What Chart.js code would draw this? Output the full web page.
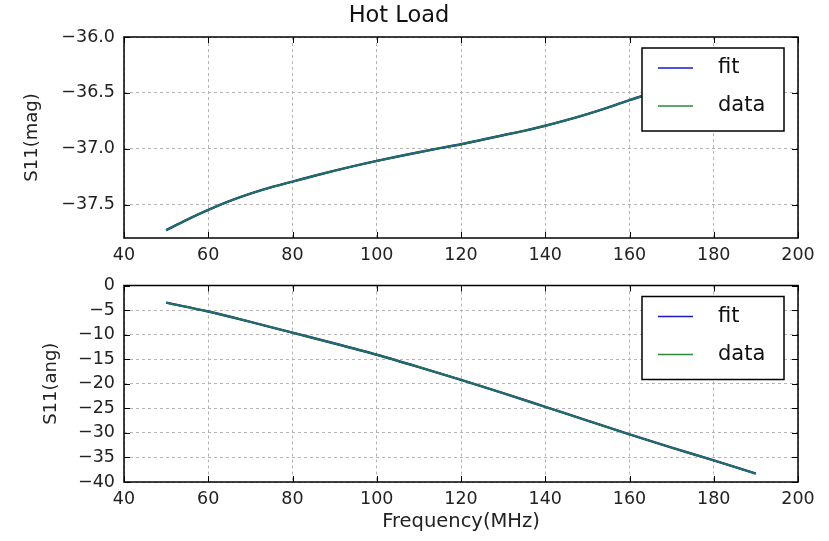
<!DOCTYPE html>
<html>
<head>
<meta charset="utf-8">
<script src="https://cdn.jsdelivr.net/npm/chart.js@4/dist/chart.umd.min.js"></script>
<style>
  html, body { margin: 0; padding: 0; background: #ffffff; }
  #wrap { position: relative; width: 829px; height: 541px; background: #ffffff; }
  canvas { position: absolute; left: 0; }
  #magCanvas { top: 0; }
  #angCanvas { top: 266px; }
</style>
</head>
<body>
<div id="wrap">
  <canvas id="magCanvas" width="829" height="266"></canvas>
  <canvas id="angCanvas" width="829" height="275"></canvas>
</div>
<script>
// Frequency samples (MHz) and measured S11 values
const magFreq = [50, 55, 60, 65, 70, 75, 80, 85, 90, 95, 100, 105, 110, 115, 120,
                 125, 130, 135, 140, 145, 150, 155, 160, 165, 170, 175, 180, 185, 190];
const magData = [-37.73, -37.635, -37.548, -37.47, -37.403, -37.345, -37.295, -37.245,
                 -37.197, -37.152, -37.11, -37.07, -37.032, -36.995, -36.96, -36.92, -36.88,
                 -36.84, -36.795, -36.745, -36.69, -36.63, -36.565, -36.505, -36.44,
                 -36.37, -36.30, -36.23, -36.16];
const magFit = [-37.73, -37.635, -37.548, -37.47, -37.403, -37.345, -37.295, -37.245,
                -37.197, -37.152, -37.11, -37.07, -37.032, -36.995, -36.96, -36.92, -36.88,
                -36.84, -36.795, -36.745, -36.69, -36.63, -36.565, -36.505, -36.44,
                -36.37, -36.30, -36.23, -36.16];

const angFreq = [50, 60, 70, 80, 90, 100, 110, 120, 130, 140, 150, 160, 170, 180, 190];
const angData = [-3.5, -5.3, -7.4, -9.6, -11.8, -14.1, -16.6, -19.2, -21.9, -24.7,
                 -27.5, -30.3, -33.0, -35.6, -38.3];
const angFit = [-3.5, -5.3, -7.4, -9.6, -11.8, -14.1, -16.6, -19.2, -21.9, -24.7,
                -27.5, -30.3, -33.0, -35.6, -38.3];

// Axis ticks
const freqTicks = [40, 60, 80, 100, 120, 140, 160, 180, 200];
const magTicks = [-37.5, -37.0, -36.5, -36.0];
const angTicks = [0, -5, -10, -15, -20, -25, -30, -35, -40];
const legendLabels = ['fit', 'data'];

const FONT = "'DejaVu Sans', sans-serif";
const FIT_COLOR = '#1a1acc';
const DATA_COLOR = '#1f7550';

function toPoints(xs, ys) { return xs.map((x, i) => ({ x: x, y: ys[i] })); }
function minus(s) { return String(s).replace('-', '\u2212'); }

// Frame, inward tick marks and the boxed legend inside the axes
const framePlugin = {
  id: 'frame',
  afterDatasetsDraw(chart) {
    const ctx = chart.ctx;
    const a = chart.chartArea;
    const xs = chart.scales.x, ys = chart.scales.y;
    ctx.save();
    ctx.strokeStyle = '#000';
    ctx.lineWidth = 1;
    const tl = 6;
    ctx.beginPath();
    xs.ticks.forEach(t => {
      const px = Math.round(xs.getPixelForValue(t.value)) + 0.5;
      ctx.moveTo(px, a.bottom); ctx.lineTo(px, a.bottom - tl);
      ctx.moveTo(px, a.top); ctx.lineTo(px, a.top + tl);
    });
    ys.ticks.forEach(t => {
      const py = Math.round(ys.getPixelForValue(t.value)) + 0.5;
      ctx.moveTo(a.left, py); ctx.lineTo(a.left + tl, py);
      ctx.moveTo(a.right, py); ctx.lineTo(a.right - tl, py);
    });
    ctx.stroke();

    // legend box
    const lg = chart.options.plugins.boxLegend;
    const bx = 642, bw = 142, by = a.top + lg.offsetTop, bh = 83;
    ctx.fillStyle = '#fff';
    ctx.fillRect(bx, by, bw, bh);
    ctx.lineWidth = 1.5;
    ctx.strokeStyle = '#000';
    ctx.strokeRect(bx, by, bw, bh);
    const colors = [FIT_COLOR, '#2a8a3a'];
    ctx.font = '21px ' + FONT;
    ctx.textBaseline = 'middle';
    ctx.textAlign = 'left';
    legendLabels.forEach((lab, i) => {
      const ly = by + 20 + i * 38;
      ctx.strokeStyle = colors[i];
      ctx.lineWidth = 1.5;
      ctx.beginPath();
      ctx.moveTo(bx + 16, ly); ctx.lineTo(bx + 51, ly);
      ctx.stroke();
      ctx.fillStyle = '#111';
      ctx.fillText(lab, bx + 76, ly);
    });

    // axes frame
    ctx.lineWidth = 1.5;
    ctx.strokeStyle = '#000';
    ctx.strokeRect(a.left, a.top, a.right - a.left, a.bottom - a.top);
    ctx.restore();
  }
};

function makeChart(id, cfg) {
  const tickFont = { family: FONT, size: 17.5 };
  const gridOpts = { color: '#b4b4b4', lineWidth: 1, drawTicks: false };
  const borderOpts = { display: false, dash: [3, 3] };
  return new Chart(document.getElementById(id), {
    type: 'line',
    data: {
      datasets: [
        { label: legendLabels[0], data: toPoints(cfg.freq, cfg.fit), borderColor: FIT_COLOR,
          borderWidth: 2.4, pointRadius: 0, cubicInterpolationMode: 'monotone', fill: false,
          order: 1 },
        { label: legendLabels[1], data: toPoints(cfg.freq, cfg.data), borderColor: DATA_COLOR,
          borderWidth: 2, pointRadius: 0, cubicInterpolationMode: 'monotone', fill: false,
          order: 0 }
      ]
    },
    options: {
      responsive: false,
      animation: false,
      events: [],
      layout: { padding: { left: 0, right: 31, top: cfg.padTop, bottom: 0 } },
      plugins: {
        legend: { display: false },
        tooltip: { enabled: false },
        title: cfg.title ? {
          display: true, text: cfg.title, color: '#111',
          font: { family: FONT, size: 22.5, weight: 'normal' },
          padding: { top: 2.5, bottom: 7.5 }
        } : { display: false },
        boxLegend: { offsetTop: cfg.legendTop }
      },
      scales: {
        x: {
          type: 'linear', min: 40, max: 200,
          grid: gridOpts, border: borderOpts,
          afterBuildTicks: s => { s.ticks = freqTicks.map(v => ({ value: v })); },
          afterFit: s => { s.height = cfg.xHeight; },
          ticks: { color: '#222', font: tickFont, padding: 6.5, maxRotation: 0,
                   callback: v => minus(v) },
          title: cfg.xTitle ? {
            display: true, text: cfg.xTitle, color: '#222',
            font: { family: FONT, size: 19.5 }, padding: { top: 0, bottom: 7.3 }
          } : { display: false }
        },
        y: {
          type: 'linear', min: cfg.yMin, max: cfg.yMax,
          grid: gridOpts, border: borderOpts,
          afterBuildTicks: s => { s.ticks = cfg.yTicks.map(v => ({ value: v })); },
          afterFit: s => { s.width = 124; },
          ticks: { color: '#222', font: tickFont, padding: 9,
                   callback: v => minus(cfg.decimals ? v.toFixed(cfg.decimals) : v) },
          title: {
            display: true, text: cfg.yTitle, color: '#222',
            font: { family: FONT, size: 18 }, padding: { top: cfg.yTitlePad, bottom: 0 }
          }
        }
      }
    },
    plugins: [framePlugin]
  });
}

makeChart('magCanvas', {
  freq: magFreq, data: magData, fit: magFit,
  yMin: -37.8, yMax: -36.0, yTicks: magTicks, decimals: 1,
  yTitle: 'S11(mag)', yTitlePad: 22, title: 'Hot Load',
  padTop: 0, xHeight: 28, legendTop: 11
});

makeChart('angCanvas', {
  freq: angFreq, data: angData, fit: angFit,
  yMin: -40, yMax: 0, yTicks: angTicks, decimals: 0,
  yTitle: 'S11(ang)', yTitlePad: 41, xTitle: 'Frequency(MHz)',
  padTop: 13, xHeight: 59, legendTop: 11
});
</script>
</body>
</html>
